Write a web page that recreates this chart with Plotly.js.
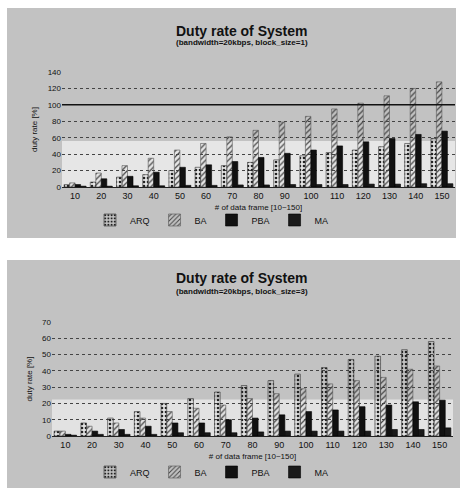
<!DOCTYPE html>
<html>
<head>
<meta charset="utf-8">
<script src="https://cdn.plot.ly/plotly-3.0.1.min.js"></script>
<style>html,body{margin:0;padding:0;background:#fff;}#chart{width:471px;height:491px;}</style>
</head>
<body>
<div id="chart"></div>
<script>
// ---- data ----
const frames = ['10','20','30','40','50','60','70','80','90','100','110','120','130','140','150'];

// chart 1: bandwidth=20kbps, block_size=1
const arq1 = [3, 6, 12, 15, 20, 24, 26, 30, 33, 38, 42, 45, 49, 53, 59];
const ba1  = [5, 17, 26, 35, 45, 53, 61, 69, 79, 86, 95, 102, 111, 120, 128];
const pba1 = [3, 10, 13, 18, 24, 27, 31, 36, 41, 45, 50, 55, 59, 64, 68];
const ma1  = [1, 1, 1.5, 1.5, 2, 2, 2.5, 2.5, 3, 3, 3, 3.5, 3.5, 4, 4];

// chart 2: bandwidth=20kbps, block_size=3
const arq2 = [3, 8, 11, 15, 20, 23, 27, 31, 34, 38, 42, 47, 49, 53, 58];
const ba2  = [3, 6, 8, 11, 15, 17, 19, 23, 26, 29, 32, 34, 36, 41, 43];
const pba2 = [1, 3, 4, 6, 8, 8, 10, 11, 13, 15, 16, 18, 19, 21, 22];
const ma2  = [0.5, 1, 1, 1, 2, 2, 2, 2.5, 3, 3, 3, 3, 4, 4, 5];

const seriesNames = ['ARQ', 'BA', 'PBA', 'MA'];
const threshold1 = 100;

// ---- styles ----
const styles = [
  {color: '#9a9a9a', pattern: {shape: '.', fgcolor: '#222', size: 4, solidity: 0.35}, line: '#333'},
  {color: '#f4f4f4', pattern: {shape: '/', fgcolor: '#444', size: 4, solidity: 0.3}, line: '#555'},
  {color: '#111111', pattern: {shape: ''}, line: '#000'},
  {color: '#1a1a1a', pattern: {shape: ''}, line: '#000'}
];

function mk(vals, i, xa, ya, lg) {
  return {
    type: 'bar', x: frames, y: vals, name: seriesNames[i],
    xaxis: xa, yaxis: ya, legend: lg, showlegend: true,
    marker: {color: styles[i].color, pattern: styles[i].pattern, line: {color: styles[i].line, width: 0.6}}
  };
}

const data = [];
[arq1, ba1, pba1, ma1].forEach((v, i) => data.push(mk(v, i, 'x', 'y', 'legend')));
[arq2, ba2, pba2, ma2].forEach((v, i) => data.push(mk(v, i, 'x2', 'y2', 'legend2')));

const W = 471, H = 491;
const px = v => v / W;
const py = v => 1 - v / H;

const font = 'Liberation Sans, Arial, sans-serif';
const tickFont = {family: font, size: 8, color: '#111'};

const gridCommon = {
  showgrid: true, gridcolor: '#444', griddash: 'dot', gridwidth: 1,
  zeroline: false, showline: false, ticks: '', automargin: false,
  tickfont: tickFont
};

const legendCommon = {
  orientation: 'h', xanchor: 'left', yanchor: 'middle',
  bgcolor: 'rgba(0,0,0,0)', font: {family: font, size: 9, color: '#111'},
  itemwidth: 30, traceorder: 'normal', tracegroupgap: 0
};

const layout = {
  width: W, height: H,
  margin: {l: 0, r: 0, t: 0, b: 0},
  paper_bgcolor: '#ffffff',
  plot_bgcolor: 'rgba(0,0,0,0)',
  barmode: 'group', bargap: 0.16, bargroupgap: 0.0,
  font: {family: font, color: '#111'},
  xaxis: {
    domain: [px(62), px(455)], anchor: 'y', type: 'category',
    showline: true, linecolor: '#222', linewidth: 1, ticks: '', automargin: false,
    tickfont: {family: font, size: 9, color: '#111'},
    title: {text: '# of data frame [10~150]', font: {family: font, size: 8, color: '#111'}, standoff: 4}
  },
  yaxis: Object.assign({}, gridCommon, {
    domain: [py(187), py(72)], anchor: 'x', range: [0, 140], dtick: 20,
    title: {text: 'duty rate [%]', font: {family: font, size: 8, color: '#111'}, standoff: 8}
  }),
  xaxis2: {
    domain: [px(52), px(453)], anchor: 'y2', type: 'category',
    showline: true, linecolor: '#222', linewidth: 1, ticks: '', automargin: false,
    tickfont: {family: font, size: 9, color: '#111'},
    title: {text: '# of data frame [10~150]', font: {family: font, size: 8, color: '#111'}, standoff: 4}
  },
  yaxis2: Object.assign({}, gridCommon, {
    domain: [py(436), py(322)], anchor: 'x2', range: [0, 70], dtick: 10,
    title: {text: 'duty rate [%]', font: {family: font, size: 8, color: '#111'}, standoff: 8}
  }),
  legend: Object.assign({}, legendCommon, {x: px(90), y: py(220)}),
  legend2: Object.assign({}, legendCommon, {x: px(90), y: py(472)}),
  shapes: [
    // panel backgrounds
    {type: 'rect', xref: 'paper', yref: 'paper', x0: px(7), x1: px(456), y0: py(238), y1: py(8),
     fillcolor: '#c2c2c2', line: {width: 0}, layer: 'below'},
    {type: 'rect', xref: 'paper', yref: 'paper', x0: px(7), x1: px(460), y0: py(488), y1: py(260),
     fillcolor: '#c2c2c2', line: {width: 0}, layer: 'below'},
    // lighter lower plot areas
    {type: 'rect', xref: 'x domain', yref: 'y domain', x0: 0, x1: 1, y0: 0, y1: 0.4,
     fillcolor: '#e6e6e6', line: {width: 0}, layer: 'below'},
    {type: 'rect', xref: 'x2 domain', yref: 'y2 domain', x0: 0, x1: 1, y0: 0, y1: 0.32,
     fillcolor: '#e2e2e2', line: {width: 0}, layer: 'below'},
    // 100% reference line
    {type: 'line', xref: 'x domain', yref: 'y', x0: 0, x1: 1, y0: threshold1, y1: threshold1,
     line: {color: '#111', width: 1.5}, layer: 'above'}
  ],
  annotations: [
    {text: '<b>Duty rate of System</b>', xref: 'paper', yref: 'paper', x: px(241), y: py(31),
     xanchor: 'center', yanchor: 'middle', showarrow: false, font: {family: font, size: 14, color: '#111'}},
    {text: '<b>(bandwidth=20kbps, block_size=1)</b>', xref: 'paper', yref: 'paper', x: px(242), y: py(43),
     xanchor: 'center', yanchor: 'middle', showarrow: false, font: {family: font, size: 8, color: '#111'}},
    {text: '<b>Duty rate of System</b>', xref: 'paper', yref: 'paper', x: px(241), y: py(278),
     xanchor: 'center', yanchor: 'middle', showarrow: false, font: {family: font, size: 14, color: '#111'}},
    {text: '<b>(bandwidth=20kbps, block_size=3)</b>', xref: 'paper', yref: 'paper', x: px(242), y: py(291),
     xanchor: 'center', yanchor: 'middle', showarrow: false, font: {family: font, size: 8, color: '#111'}}
  ]
};

Plotly.newPlot('chart', data, layout, {displayModeBar: false, staticPlot: true});
</script>
</body>
</html>
